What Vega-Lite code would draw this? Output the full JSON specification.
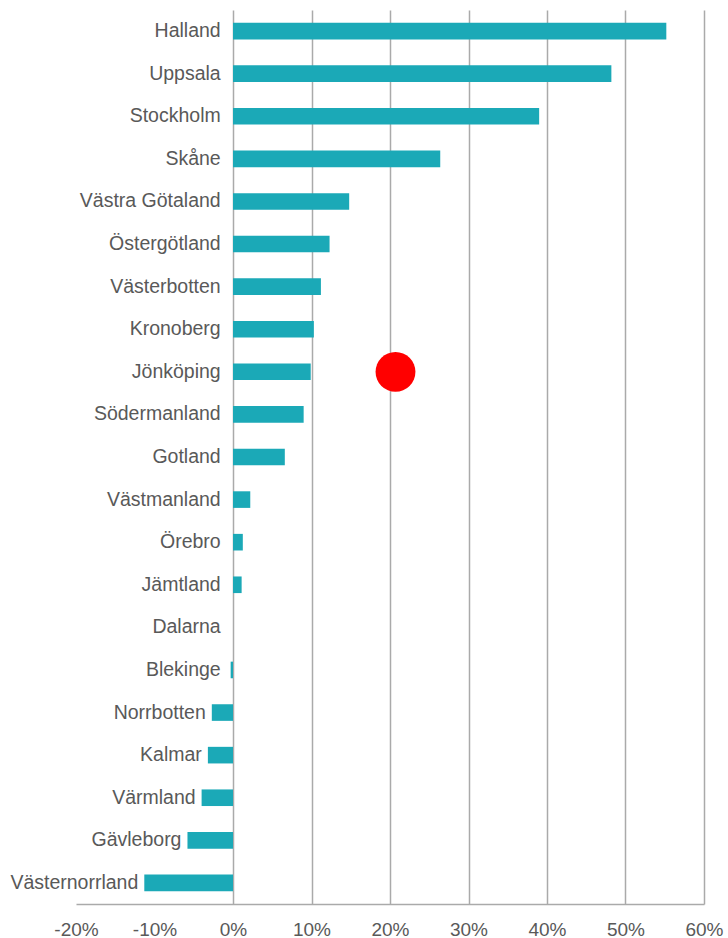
{
  "$schema": "https://vega.github.io/schema/vega-lite/v6.json",
  "width": 628,
  "height": 894,
  "autosize": {"type": "none"},
  "padding": {"left": 76, "top": 10, "right": 24, "bottom": 34},
  "background": "white",
  "config": {
    "view": {"stroke": null},
    "font": "Liberation Sans"
  },
  "datasets": {
    "regions": [
      {"region": "Halland", "value": 0.552},
      {"region": "Uppsala", "value": 0.482},
      {"region": "Stockholm", "value": 0.390},
      {"region": "Skåne", "value": 0.264},
      {"region": "Västra Götaland", "value": 0.148},
      {"region": "Östergötland", "value": 0.123},
      {"region": "Västerbotten", "value": 0.112},
      {"region": "Kronoberg", "value": 0.103},
      {"region": "Jönköping", "value": 0.099},
      {"region": "Södermanland", "value": 0.090},
      {"region": "Gotland", "value": 0.066},
      {"region": "Västmanland", "value": 0.022},
      {"region": "Örebro", "value": 0.0125},
      {"region": "Jämtland", "value": 0.011},
      {"region": "Dalarna", "value": 0.0},
      {"region": "Blekinge", "value": -0.003},
      {"region": "Norrbotten", "value": -0.027},
      {"region": "Kalmar", "value": -0.032},
      {"region": "Värmland", "value": -0.040},
      {"region": "Gävleborg", "value": -0.058},
      {"region": "Västernorrland", "value": -0.113}
    ],
    "marker": [
      {"region": "Jönköping", "value": 0.207}
    ]
  },
  "layer": [
    {
      "data": {"name": "regions"},
      "mark": {"type": "bar", "color": "#1ba9b7"},
      "encoding": {
        "y": {
          "field": "region",
          "type": "nominal",
          "sort": null,
          "scale": {"paddingInner": 0.61, "paddingOuter": 0.3},
          "axis": null
        },
        "x": {
          "field": "value",
          "type": "quantitative",
          "scale": {"domain": [-0.2, 0.6], "nice": false, "zero": false},
          "axis": {
            "title": null,
            "format": ".0%",
            "labelExpr": "replace(datum.label, '\u2212', '-')",
            "values": [-0.2, -0.1, 0, 0.1, 0.2, 0.3, 0.4, 0.5, 0.6],
            "ticks": false,
            "labelFlush": false,
            "labelOverlap": false,
            "labelPadding": 16,
            "labelFontSize": 19,
            "labelColor": "#595959",
            "labelFont": "Liberation Sans",
            "domainColor": "#aaaaaa",
            "domainWidth": 1.5,
            "grid": true,
            "gridColor": "#aaaaaa",
            "gridWidth": 1.5,
            "gridOpacity": {"condition": {"test": "datum.value < 0", "value": 0}, "value": 1}
          }
        }
      }
    },
    {
      "data": {"name": "regions"},
      "transform": [{"calculate": "min(datum.value, -0.008)", "as": "labelAt"}],
      "mark": {"type": "text", "align": "right", "baseline": "middle", "dx": -6, "fontSize": 19.5, "color": "#595959", "font": "Liberation Sans"},
      "encoding": {
        "y": {"field": "region", "type": "nominal", "sort": null},
        "x": {"field": "labelAt", "type": "quantitative"},
        "text": {"field": "region"}
      }
    },
    {
      "data": {"name": "marker"},
      "mark": {"type": "circle", "color": "#ff0000", "opacity": 1, "size": 1590},
      "encoding": {
        "y": {"field": "region", "type": "nominal", "sort": null},
        "x": {"field": "value", "type": "quantitative"}
      }
    }
  ]
}
